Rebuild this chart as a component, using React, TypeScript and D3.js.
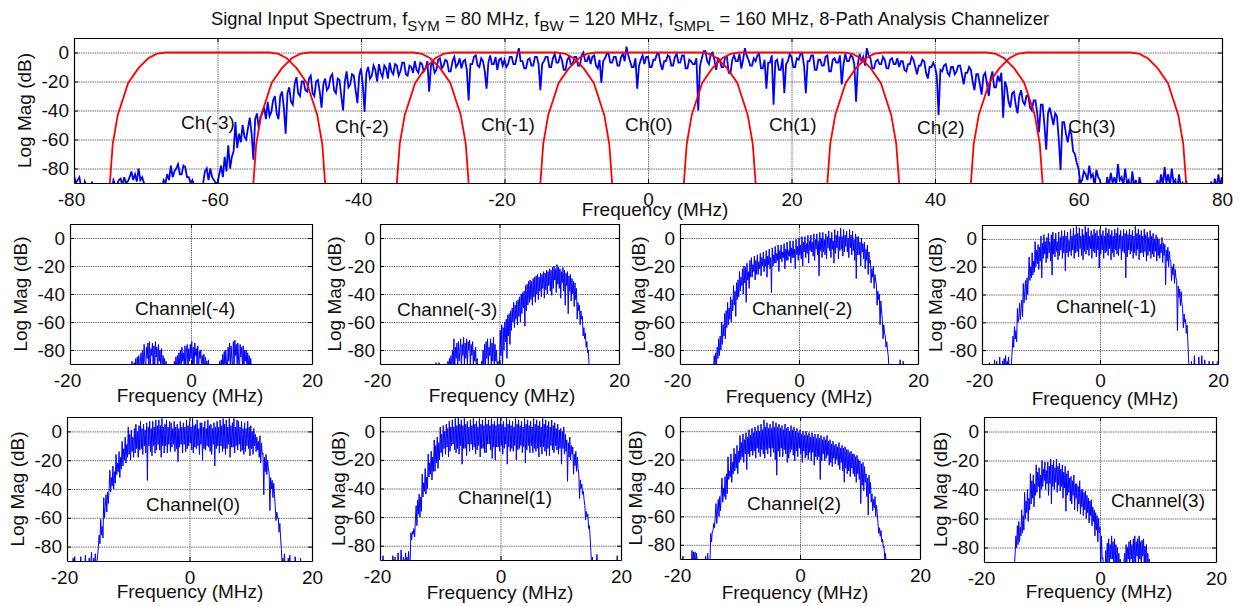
import React, { useRef, useEffect } from 'react';
import * as d3 from 'd3';

const FONT = '"Liberation Sans", Arial, sans-serif';
const BLUE = '#0000ff';
const RED = '#ff0000';
const TEXT_SIZE = 19;

const dbTicks = [0, -20, -40, -60, -80];
const inputTicks = [-80, -60, -40, -20, 0, 20, 40, 60, 80];
const channelTicks = [-20, 0, 20];
const inputStep = 0.25;
const channelStep = 0.125;

// input spectrum, one row per 5 MHz starting at -80
const inputSpectrum = [
  -85, -90, -88, -86, -93, -96, -89, -92, -92, -96, -89, -96, -96, -96, -96, -96, -96, -96, -96, -96,
  -92, -96, -88, -91, -91, -88, -87, -92, -86, -90, -89, -86, -82, -88, -84, -89, -80, -88, -86, -90,
  -91, -96, -92, -96, -96, -96, -96, -96, -90, -94, -88, -90, -84, -88, -78, -86, -82, -80, -77, -84,
  -84, -78, -79, -86, -86, -90, -88, -92, -91, -96, -94, -96, -90, -82, -80, -88, -80, -86, -88, -90,
  -90, -84, -78, -86, -72, -82, -64, -80, -72, -68, -48, -66, -56, -62, -50, -58, -60, -52, -45, -56,
  -74, -46, -42, -52, -44, -42, -38, -46, -34, -44, -41, -33, -30, -42, -46, -30, -27, -38, -56, -28,
  -24, -34, -36, -22, -17, -28, -30, -20, -20, -26, -27, -18, -16, -28, -30, -20, -19, -27, -38, -22,
  -18, -26, -24, -17, -15, -26, -28, -18, -19, -30, -40, -20, -13, -24, -22, -15, -16, -26, -35, -16,
  -11, -22, -41, -14, -10, -18, -16, -9, -12, -20, -8, -14, -17, -9, -11, -18, -7, -13, -15, -8,
  -9, -16, -13, -7, -7, -15, -16, -9, -10, -14, -6, -12, -14, -7, -8, -13, -11, -6, -27, -9,
  -7, -14, -12, -5, -4, -11, -9, -5, -6, -13, -13, -6, -3, -10, -8, -4, -11, -6, -5, -12,
  -33, -8, -8, -3, -2, -9, -10, -4, -6, -13, -25, -7, -2, -8, -8, -3, -12, -5, -4, -9,
  -5, -10, -8, -3, -3, -8, -8, -2, 3, -6, -6, -11, -11, -5, -4, -9, -9, -3, -3, -8,
  -26, -8, -6, -3, -3, -10, -10, -4, -1, -7, -7, -2, -5, -12, -12, -5, -3, -8, -8, -3,
  -3, -9, -9, -2, 0, -6, -6, -2, -8, -3, -2, -9, -11, -5, -21, -6, -4, -1, -1, -7,
  -7, -3, -3, -9, -9, -3, -1, -6, 4, -2, -6, -10, -10, -4, -25, -9, -5, -2, -8, -3,
  -3, -10, -10, -5, -5, -1, -1, -8, -12, -6, -6, -2, -3, -9, -9, -3, -1, -7, -7, -2,
  -2, -11, -11, -5, -6, -8, -8, -4, -40, -9, -4, 1, 1, -6, -8, -1, 0, -5, -12, -4,
  -5, -10, -10, -3, -3, -14, -14, -5, -2, -6, -6, -1, -11, -5, 3, -2, -5, -9, -9, -4,
  -6, -2, -1, -11, -11, -5, -25, -7, -7, -2, -36, -6, -5, -12, -12, -4, -28, -8, -6, -1,
  -3, -10, -10, -4, -5, -1, -1, -9, -28, -6, -6, -2, -2, -12, -12, -5, -5, -9, -9, -3,
  -2, -13, -13, -5, -4, -7, -7, -2, -22, -8, -1, -6, -6, -2, -3, -8, -34, -8, -1, -6,
  -3, -9, 3, -2, -4, -11, -11, -6, -5, -8, -8, -3, -5, -11, -11, -5, -4, -8, -8, -4,
  -10, -6, -6, -12, -13, -8, -8, -3, -5, -10, -15, -9, -9, -5, -6, -14, -18, -10, -10, -7,
  -10, -16, -43, -12, -13, -9, -8, -14, -16, -10, -10, -15, -13, -9, -9, -15, -22, -14, -14, -10,
  -12, -20, -26, -15, -15, -22, -29, -16, -14, -22, -30, -18, -13, -24, -24, -16, -20, -14, -45, -20,
  -24, -34, -38, -28, -27, -36, -42, -30, -26, -34, -36, -30, -30, -38, -40, -33, -33, -42, -55, -36,
  -36, -50, -67, -42, -38, -44, -50, -42, -44, -60, -81, -48, -48, -56, -62, -54, -56, -68, -70, -76,
  -80, -90, -88, -82, -84, -88, -78, -86, -84, -92, -81, -86, -88, -96, -92, -96, -86, -92, -83, -90,
  -86, -92, -77, -88, -86, -92, -80, -90, -88, -96, -82, -92, -88, -96, -86, -92, -96, -96, -96, -96,
  -96, -96, -90, -96, -88, -94, -84, -92, -79, -90, -84, -92, -80, -90, -88, -96, -84, -92, -90, -96,
  -88, -96, -96, -96, -96, -96, -96, -96, -96, -96, -96, -96, -91, -96, -89, -96, -87, -94, -84, -92,
  -86,
];

// filter response relative to its channel centre
const filterOffsets = [-15, -14.6, -13.9, -12.45, -11.05, -9.65, -8.5, -7.3, 7.3, 8.5, 9.65, 11.05, 12.45, 13.9, 14.6, 15];
const filterDb = [-90, -63, -43, -21, -11, -4, -1, 0, 0, -1, -4, -11, -21, -43, -63, -90];
const channelCentres = [-60, -40, -20, 0, 20, 40, 60];

// channel spectra, one row per MHz from the panel's start frequency
const channelM4 = [
  -90, -96, -88, -96, -93, -89, -96, -86,
  -96, -85, -92, -84, -96, -88, -82, -96,
  -80, -92, -76, -88, -96, -78, -86, -75,
  -90, -74, -96, -79, -84, -75, -92, -77,
  -96, -74, -85, -78, -96, -76, -88, -80,
  -92, -79, -96, -84, -90, -86, -96, -88,
  -96, -91, -96, -96, -96, -96, -96, -96,
  -92, -96, -88, -96, -85, -93, -84, -96,
  -82, -90, -80, -96, -78, -88, -82, -94,
  -77, -92, -80, -76, -96, -79, -88, -76,
  -86, -74, -92, -78, -96, -75, -84, -79,
  -90, -77, -96, -81, -86, -80, -94, -84,
  -92, -83, -96, -85, -90, -88, -96, -87,
  -96, -90, -96, -93, -96, -96, -96, -96,
  -96, -96, -94, -96, -92, -96, -88, -96,
  -87, -96, -83, -92, -81, -96, -80, -90,
  -96, -78, -88, -75, -92, -77, -86, -96,
  -74, -90, -73, -84, -76, -92, -75, -88,
  -96, -76, -85, -78, -90, -77, -96, -80,
  -88, -80, -96, -82, -92, -84, -96, -86,
  -96, -90, -96, -94, -96, -96, -96, -96,
];
const channelM3 = [
  -96, -96, -96, -96, -92, -96, -96, -90,
  -96, -91, -96, -89, -96, -92, -96, -89,
  -94, -96, -90, -96, -96, -96, -96, -96,
  -96, -96, -96, -88, -96, -86, -94, -84,
  -96, -80, -90, -72, -96, -78, -86, -75,
  -92, -74, -88, -80, -72, -96, -76, -84,
  -71, -90, -75, -86, -72, -94, -74, -80,
  -73, -92, -76, -84, -74, -90, -80, -88,
  -78, -96, -86, -96, -96, -96, -96, -96,
  -88, -96, -80, -92, -76, -96, -74, -86,
  -72, -90, -78, -84, -72, -94, -75, -88,
  -71, -92, -76, -88, -80, -96, -88, -96,
  -90, -66, -84, -62, -96, -64, -80, -60,
  -74, -58, -86, -55, -70, -54, -76, -52,
  -66, -50, -60, -46, -64, -48, -58, -45,
  -62, -44, -56, -42, -60, -40, -54, -39,
  -50, -38, -63, -34, -52, -33, -48, -31,
  -46, -30, -44, -31, -48, -29, -42, -28,
  -46, -27, -40, -26, -44, -28, -38, -25,
  -42, -26, -36, -24, -43, -25, -37, -23,
  -40, -24, -34, -22, -38, -23, -41, -21,
  -36, -20, -30, -22, -39, -19, -33, -21,
  -36, -22, -43, -24, -32, -21, -38, -23,
  -48, -25, -34, -24, -54, -27, -38, -26,
  -45, -29, -40, -31, -49, -32, -44, -36,
  -58, -46, -52, -48, -62, -52, -58, -56,
  -70, -64, -72, -68, -78, -74, -82, -80,
  -92, -96, -96, -96, -96, -96, -96, -96,
];
const channelM2 = [
  -96, -96, -96, -96, -90, -96, -84, -92,
  -82, -92, -78, -86, -72, -84, -70, -80,
  -60, -76, -62, -70, -54, -72, -52, -64,
  -46, -62, -50, -58, -42, -60, -44, -52,
  -34, -48, -38, -56, -32, -44, -30, -42,
  -24, -38, -28, -34, -22, -40, -20, -32,
  -21, -46, -18, -30, -24, -36, -16, -28,
  -14, -28, -19, -24, -13, -30, -16, -26,
  -12, -26, -17, -22, -11, -27, -14, -20,
  -10, -24, -15, -20, -9, -28, -13, -19,
  -8, -22, -14, -39, -7, -20, -12, -18,
  -6, -18, -11, -16, -5, -24, -9, -15,
  -5, -17, -10, -14, -4, -22, -8, -16,
  -3, -16, -9, -13, -2, -18, -7, -14,
  -2, -14, -8, -22, -1, -12, -6, -16,
  0, -12, -5, -15, 1, -20, -3, -10,
  1, -14, -4, -11, 2, -18, -2, -9,
  2, -10, -3, -13, 3, -16, -1, -8,
  3, -12, -2, -27, 4, -9, 0, -14,
  4, -10, -1, -12, 3, -15, 1, -7,
  5, -9, 0, -14, 4, -8, -2, -18,
  6, -11, 2, -7, 5, -15, 1, -9,
  7, -8, 1, -13, 6, -10, 2, -6,
  5, -10, 0, -14, 6, -7, 2, -12,
  5, -9, -1, -16, 3, -29, 1, -12,
  1, -12, -3, -20, 0, -10, -4, -15,
  -3, -22, -8, -16, -5, -26, -10, -18,
  -16, -32, -22, -28, -20, -36, -26, -30,
  -33, -48, -38, -44, -40, -62, -45, -52,
  -58, -72, -62, -68, -70, -78, -74, -80,
  -84, -94, -90, -96, -93, -96, -91, -96,
  -94, -96, -90, -96, -93, -96, -96, -96,
  -87, -96, -92, -96, -88, -96, -95, -96,
  -93, -96, -91, -96, -96, -96, -96, -96,
];
const channelM1 = [
  -88, -92, -96, -91, -96, -90, -96, -96,
  -92, -96, -89, -96, -94, -96, -96, -90,
  -96, -87, -96, -92, -88, -96, -91, -96,
  -85, -96, -90, -96, -88, -96, -86, -94,
  -84, -96, -88, -92, -85, -96, -90, -96,
  -88, -80, -70, -78, -63, -72, -66, -74,
  -50, -60, -56, -46, -58, -50, -44, -56,
  -32, -46, -38, -30, -44, -28, -40, -26,
  -13, -30, -20, -28, -10, -26, -16, -24,
  -2, -20, -8, -18, -4, -22, -6, -16,
  2, -28, -3, -14, 3, -11, -2, -17,
  1, -14, 4, -10, -2, -16, 3, -26,
  5, -11, 0, -13, 4, -9, -2, -15,
  5, -12, 1, -8, 6, -14, 2, -10,
  6, -23, 2, -10, 5, -13, -1, -9,
  7, -12, 2, -8, 8, -14, 3, -10,
  9, -9, 4, -13, 8, -7, 2, -12,
  7, -15, 3, -9, 9, -11, 5, -8,
  8, -12, 2, -7, 6, -14, 3, -9,
  7, -10, 4, -13, 6, -8, 2, -21,
  7, -11, 3, -8, 6, -14, 2, -10,
  8, -9, 4, -12, 7, -7, 3, -15,
  6, -10, 2, -13, 7, -8, 4, -11,
  8, -12, 3, -7, 6, -15, 2, -9,
  7, -10, 4, -28, 6, -13, 3, -8,
  7, -11, 3, -9, 6, -14, 2, -10,
  9, -12, 4, -8, 7, -15, 3, -10,
  6, -10, 2, -13, 7, -9, 3, -16,
  5, -12, 1, -9, 6, -14, 2, -11,
  4, -13, 0, -9, 3, -16, 1, -12,
  0, -14, -4, -10, 1, -17, -3, -12,
  -4, -33, -8, -16, -6, -20, -9, -15,
  -16, -30, -20, -26, -18, -32, -22, -28,
  -30, -66, -34, -42, -36, -48, -38, -46,
  -50, -64, -54, -60, -58, -68, -62, -72,
  -86, -96, -90, -96, -88, -96, -92, -96,
  -84, -96, -90, -96, -94, -96, -85, -96,
  -90, -96, -84, -96, -92, -96, -87, -96,
  -96, -96, -90, -96, -88, -96, -96, -92,
  -96, -88, -96, -92, -96, -90, -96, -88,
];
const channel0 = [
  -85, -96, -92, -96, -96, -90, -96, -94,
  -88, -96, -87, -92, -96, -93, -96, -96,
  -92, -96, -87, -96, -90, -96, -91, -96,
  -86, -96, -94, -90, -96, -88, -96, -92,
  -84, -96, -92, -88, -96, -85, -94, -92,
  -86, -80, -72, -78, -61, -72, -66, -74,
  -46, -60, -52, -44, -56, -42, -50, -40,
  -27, -42, -32, -38, -24, -40, -28, -36,
  -16, -30, -22, -28, -14, -32, -18, -26,
  -7, -24, -12, -20, -4, -22, -9, -18,
  3, -16, -2, -20, 1, -14, -4, -18,
  2, -15, 5, -12, 0, -18, 4, -13,
  7, -12, 2, -16, 5, -10, 1, -15,
  6, -34, 3, -10, 7, -14, 2, -17,
  7, -10, 3, -15, 8, -13, 4, -9,
  8, -13, 4, -18, 9, -10, 3, -15,
  5, -10, 8, -15, 3, -9, 7, -14,
  6, -11, 2, -9, 7, -14, 3, -12,
  5, -21, 2, -11, 7, -9, 3, -15,
  6, -9, 3, -14, 8, -12, 4, -10,
  7, -8, 3, -13, 9, -15, 4, -11,
  5, -12, 8, -10, 2, -16, 6, -9,
  6, -20, 3, -12, 7, -13, 2, -10,
  8, -11, 4, -14, 5, -16, 2, -9,
  6, -24, 3, -12, 7, -10, 3, -15,
  8, -10, 4, -14, 9, -12, 5, -16,
  8, -12, 3, -9, 9, -18, 4, -11,
  6, -11, 9, -15, 3, -10, 8, -13,
  7, -9, 3, -14, 7, -13, 2, -16,
  6, -14, 2, -10, 7, -12, 3, -17,
  4, -12, 0, -16, 2, -10, -2, -14,
  -4, -13, -7, -18, -3, -22, -8, -16,
  -15, -44, -18, -28, -16, -30, -20, -26,
  -29, -55, -32, -40, -34, -46, -36, -44,
  -52, -62, -56, -60, -60, -70, -64, -74,
  -82, -92, -88, -96, -85, -96, -90, -96,
  -94, -88, -96, -86, -96, -96, -91, -96,
  -96, -96, -87, -96, -92, -96, -96, -90,
  -96, -88, -96, -92, -96, -90, -96, -96,
  -96, -90, -96, -96, -92, -96, -96, -96,
];
const channel1 = [
  -96, -96, -96, -96, -87, -96, -92, -96,
  -96, -96, -96, -90, -96, -92, -96, -96,
  -96, -87, -92, -96, -88, -96, -94, -96,
  -85, -96, -90, -96, -83, -92, -96, -88,
  -90, -96, -85, -92, -88, -96, -84, -96,
  -92, -71, -76, -70, -72, -68, -74, -62,
  -52, -66, -48, -58, -44, -60, -46, -56,
  -30, -46, -36, -42, -26, -44, -32, -40,
  -16, -32, -22, -30, -14, -34, -18, -28,
  -6, -28, -10, -22, -4, -26, -8, -20,
  3, -15, -2, -18, 4, -12, 0, -16,
  5, -11, 2, -18, 7, -14, 3, -10,
  8, -9, 3, -13, 9, -15, 4, -12,
  10, -16, 5, -10, 8, -23, 4, -12,
  9, -12, 5, -17, 7, -9, 3, -14,
  8, -9, 4, -13, 9, -11, 5, -16,
  7, -13, 3, -10, 9, -18, 5, -12,
  8, -12, 4, -15, 10, -15, 5, -9,
  8, -9, 4, -13, 9, -19, 5, -11,
  7, -20, 4, -11, 10, -11, 5, -14,
  9, -10, 5, -16, 7, -12, 3, -9,
  10, -23, 5, -11, 8, -14, 4, -12,
  7, -14, 3, -10, 9, -20, 5, -13,
  8, -12, 4, -10, 7, -15, 3, -11,
  9, -22, 5, -13, 8, -10, 4, -15,
  7, -10, 3, -15, 9, -12, 5, -14,
  8, -12, 4, -18, 7, -11, 3, -16,
  9, -11, 5, -14, 8, -17, 4, -12,
  7, -17, 3, -10, 8, -13, 4, -15,
  6, -10, 2, -13, 5, -16, 1, -12,
  2, -23, 0, -12, 3, -16, -2, -14,
  -6, -35, -8, -18, -4, -20, -10, -16,
  -11, -30, -16, -24, -14, -28, -18, -26,
  -30, -47, -34, -40, -37, -44, -42, -48,
  -52, -62, -56, -60, -58, -68, -66, -74,
  -84, -96, -88, -96, -92, -96, -96, -96,
  -86, -96, -96, -90, -96, -94, -96, -96,
  -96, -93, -96, -96, -96, -92, -96, -96,
  -96, -96, -96, -94, -96, -96, -96, -96,
  -96, -92, -96, -87, -96, -92, -96, -90,
];
const channel2 = [
  -92, -96, -90, -96, -88, -96, -96, -90,
  -96, -93, -96, -96, -96, -96, -96, -96,
  -84, -96, -85, -92, -85, -96, -86, -92,
  -91, -96, -93, -96, -92, -96, -96, -96,
  -93, -96, -88, -96, -90, -86, -96, -90,
  -92, -72, -78, -71, -70, -65, -68, -60,
  -51, -65, -56, -48, -60, -46, -56, -44,
  -33, -50, -40, -46, -32, -48, -30, -44,
  -18, -34, -28, -32, -16, -36, -22, -30,
  -12, -28, -16, -26, -10, -30, -14, -22,
  -3, -20, -8, -18, -2, -22, -6, -16,
  -1, -27, -4, -16, 1, -18, -3, -14,
  2, -17, -1, -14, 3, -19, 0, -12,
  4, -15, 0, -18, 5, -13, 1, -16,
  8, -19, 3, -13, 6, -16, 2, -12,
  5, -18, 2, -12, 7, -15, 3, -20,
  6, -31, 3, -14, 5, -18, 2, -12,
  4, -18, 1, -13, 5, -16, 2, -22,
  3, -19, 0, -15, 4, -13, 1, -17,
  3, -21, 0, -14, 2, -18, -1, -12,
  1, -16, -2, -22, 0, -14, -3, -19,
  0, -17, -3, -20, -1, -15, -4, -21,
  -1, -15, -4, -24, -2, -18, -5, -20,
  -2, -18, -5, -34, -3, -21, -6, -16,
  -4, -21, -6, -19, -3, -17, -7, -24,
  -6, -22, -9, -25, -7, -19, -10, -23,
  -9, -20, -11, -24, -8, -27, -12, -22,
  -10, -28, -12, -36, -11, -26, -13, -30,
  -13, -28, -15, -32, -14, -26, -16, -30,
  -16, -32, -18, -36, -17, -30, -20, -34,
  -21, -51, -23, -38, -22, -42, -25, -36,
  -30, -46, -33, -59, -31, -44, -36, -50,
  -44, -56, -48, -54, -46, -60, -52, -58,
  -65, -72, -68, -74, -70, -78, -76, -82,
  -81, -90, -86, -96, -92, -96, -96, -96,
];
const channel3 = [
  -96, -96, -92, -84, -72, -80, -65, -78,
  -62, -76, -66, -72, -54, -70, -58, -68,
  -42, -60, -48, -56, -40, -62, -46, -54,
  -29, -50, -34, -46, -30, -52, -36, -44,
  -23, -42, -28, -38, -25, -46, -30, -40,
  -20, -38, -26, -34, -21, -40, -27, -36,
  -21, -44, -24, -36, -19, -50, -23, -38,
  -20, -40, -25, -35, -19, -42, -24, -37,
  -22, -41, -26, -38, -23, -46, -28, -39,
  -24, -55, -29, -44, -27, -42, -32, -48,
  -31, -50, -34, -44, -30, -54, -36, -46,
  -36, -55, -38, -50, -34, -57, -40, -52,
  -40, -58, -42, -54, -41, -60, -44, -56,
  -46, -63, -48, -58, -47, -65, -52, -62,
  -54, -72, -56, -68, -58, -76, -60, -70,
  -66, -94, -72, -88, -87, -96, -92, -96,
  -82, -94, -77, -90, -74, -92, -78, -88,
  -72, -88, -76, -94, -74, -90, -78, -92,
  -80, -92, -84, -96, -88, -96, -96, -96,
  -96, -90, -84, -96, -78, -92, -80, -88,
  -76, -94, -75, -88, -78, -92, -74, -90,
  -72, -92, -76, -86, -74, -90, -72, -88,
  -76, -94, -75, -86, -74, -92, -79, -90,
  -78, -92, -84, -96, -88, -96, -92, -96,
  -96, -96, -96, -96, -96, -96, -96, -96,
  -92, -96, -90, -96, -91, -96, -93, -96,
  -92, -96, -93, -96, -96, -96, -96, -96,
];

const inputLabels = ['Ch(-3)', 'Ch(-2)', 'Ch(-1)', 'Ch(0)', 'Ch(1)', 'Ch(2)', 'Ch(3)'];
const inputLabelPos = [[181, 129], [335, 133], [481, 131], [625, 131], [769, 131], [917, 134], [1068, 133]];

// pixel layout of the small panels plus their labels
const panels = [
  { name: 'Channel(-4)', values: channelM4, start: -10, left: 70, right: 312, top: 224, bottom: 364, labelX: 135, labelY: 315, yLabelX: 27, xLabelX: 190, xLabelY: 402 },
  { name: 'Channel(-3)', values: channelM3, start: -12, left: 380, right: 619, top: 224, bottom: 364, labelX: 397, labelY: 316, yLabelX: 341, xLabelX: 502, xLabelY: 402 },
  { name: 'Channel(-2)', values: channelM2, start: -15, left: 680, right: 918, top: 224, bottom: 364, labelX: 752, labelY: 315, yLabelX: 645, xLabelX: 799, xLabelY: 403 },
  { name: 'Channel(-1)', values: channelM1, start: -20, left: 982, right: 1218, top: 225, bottom: 364, labelX: 1056, labelY: 313, yLabelX: 942, xLabelX: 1105, xLabelY: 405 },
  { name: 'Channel(0)', values: channel0, start: -20, left: 67, right: 312, top: 417, bottom: 561, labelX: 146, labelY: 511, yLabelX: 24, xLabelX: 190, xLabelY: 598 },
  { name: 'Channel(1)', values: channel1, start: -20, left: 380, right: 621, top: 417, bottom: 560, labelX: 458, labelY: 504, yLabelX: 345, xLabelX: 500, xLabelY: 599 },
  { name: 'Channel(2)', values: channel2, start: -20, left: 680, right: 920, top: 417, bottom: 559, labelX: 747, labelY: 510, yLabelX: 642, xLabelX: 795, xLabelY: 599 },
  { name: 'Channel(3)', values: channel3, start: -15, left: 984, right: 1216, top: 417, bottom: 562, labelX: 1111, labelY: 507, yLabelX: 947, xLabelX: 1099, xLabelY: 598 },
];

const drawFrame = (svg, id, box, xTicks, xDomain, xLabelX, xLabelY, yLabelX) => {
  const { left, right, top, bottom } = box;
  const x = d3.scaleLinear().domain(xDomain).range([left, right]);
  const y = d3.scaleLinear().domain([-90, 10]).range([bottom, top]);

  svg.append('clipPath').attr('id', id)
    .append('rect')
    .attr('x', left).attr('y', top)
    .attr('width', right - left).attr('height', bottom - top);

  // grid
  const gridX = svg.append('g').attr('transform', `translate(0,${bottom})`)
    .call(d3.axisBottom(x).tickValues(xTicks).tickSize(top - bottom).tickFormat(() => ''));
  const gridY = svg.append('g').attr('transform', `translate(${left},0)`)
    .call(d3.axisLeft(y).tickValues(dbTicks).tickSize(left - right).tickFormat(() => ''));
  [gridX, gridY].forEach(g => {
    g.select('.domain').remove();
    g.selectAll('line').attr('stroke', '#6e6e6e').attr('stroke-width', 1).attr('stroke-dasharray', '1.5 0.8');
  });

  const plot = svg.append('g').attr('clip-path', `url(#${id})`);
  const axes = svg.append('g');

  const finish = () => {
    axes.raise();
    const bottomAxis = axes.append('g').attr('transform', `translate(0,${bottom})`)
      .call(d3.axisBottom(x).tickValues(xTicks).tickSizeInner(-4).tickSizeOuter(0).tickPadding(10).tickFormat(d3.format('d')));
    const leftAxis = axes.append('g').attr('transform', `translate(${left},0)`)
      .call(d3.axisLeft(y).tickValues(dbTicks).tickSizeInner(-4).tickSizeOuter(0).tickPadding(5).tickFormat(d3.format('d')));
    axes.append('g').attr('transform', `translate(0,${top})`)
      .call(d3.axisTop(x).tickValues(xTicks).tickSizeInner(-4).tickSizeOuter(0).tickFormat(() => ''));
    axes.append('g').attr('transform', `translate(${right},0)`)
      .call(d3.axisRight(y).tickValues(dbTicks).tickSizeInner(-4).tickSizeOuter(0).tickFormat(() => ''));
    axes.selectAll('.domain').attr('stroke', '#000').attr('stroke-width', 1.2);
    axes.selectAll('line').attr('stroke', '#000').attr('stroke-width', 1);
    [bottomAxis, leftAxis].forEach(g => {
      g.selectAll('text').attr('font-family', FONT).attr('font-size', TEXT_SIZE).attr('fill', '#111')
        .text(d => String(d));
    });
    // negative labels sit a little left of their tick in the original
    bottomAxis.selectAll('text').attr('dx', d => (d < 0 ? -3 : 0));
  };

  svg.append('text')
    .attr('x', xLabelX).attr('y', xLabelY)
    .attr('text-anchor', 'middle')
    .attr('font-family', FONT).attr('font-size', TEXT_SIZE).attr('fill', '#111')
    .text('Frequency (MHz)');
  svg.append('text')
    .attr('transform', `translate(${yLabelX},${(top + bottom) / 2}) rotate(-90)`)
    .attr('text-anchor', 'middle')
    .attr('font-family', FONT).attr('font-size', TEXT_SIZE).attr('fill', '#111')
    .text('Log Mag (dB)');

  return { x, y, plot, finish };
};

const App = () => {
  const svgRef = useRef();

  useEffect(() => {
    const svg = d3.select(svgRef.current);
    svg.selectAll('*').remove();

    // title with subscripts
    const title = svg.append('text')
      .attr('x', 211).attr('y', 25)
      .attr('font-family', FONT).attr('font-size', 18.4).attr('fill', '#111');
    const titleParts = [
      ['Signal Input Spectrum, f', false], ['SYM', true], [' = 80 MHz, f', false], ['BW', true],
      [' = 120 MHz, f', false], ['SMPL', true], [' = 160 MHz, 8-Path Analysis Channelizer', false],
    ];
    let wasSub = false;
    titleParts.forEach(([s, sub]) => {
      title.append('tspan')
        .attr('dy', sub === wasSub ? 0 : sub ? 6 : -6)
        .attr('font-size', sub ? 15 : 18.4)
        .text(s);
      wasSub = sub;
    });

    // input spectrum panel
    const top = drawFrame(svg, 'clip-input', { left: 74, right: 1222, top: 38, bottom: 183 }, inputTicks, [-80, 80], 655, 216, 31);
    const inputLine = d3.line().x((d, i) => top.x(-80 + i * inputStep)).y(d => top.y(d));
    top.plot.append('path').datum(inputSpectrum)
      .attr('d', inputLine).attr('fill', 'none')
      .attr('stroke', BLUE).attr('stroke-width', 1.8);
    const filterLine = d3.line().x(d => top.x(d[0])).y(d => top.y(d[1]));
    channelCentres.forEach(c => {
      top.plot.append('path')
        .datum(filterOffsets.map((o, i) => [c + o, filterDb[i]]))
        .attr('d', filterLine).attr('fill', 'none')
        .attr('stroke', RED).attr('stroke-width', 1.8);
    });
    top.finish();
    svg.selectAll('.input-label').data(inputLabels).enter().append('text')
      .attr('x', (d, i) => inputLabelPos[i][0]).attr('y', (d, i) => inputLabelPos[i][1])
      .attr('font-family', FONT).attr('font-size', TEXT_SIZE).attr('fill', '#111')
      .text(d => d);

    // channel panels
    panels.forEach((p, n) => {
      const f = drawFrame(svg, `clip-${n}`, p, channelTicks, [-20, 20], p.xLabelX, p.xLabelY, p.yLabelX);
      const line = d3.line().x((d, i) => f.x(p.start + i * channelStep)).y(d => f.y(d));
      f.plot.append('path').datum(p.values)
        .attr('d', line).attr('fill', 'none')
        .attr('stroke', BLUE).attr('stroke-width', 1);
      f.finish();
      svg.append('text')
        .attr('x', p.labelX).attr('y', p.labelY)
        .attr('font-family', FONT).attr('font-size', TEXT_SIZE).attr('fill', '#111')
        .text(p.name);
    });
  }, []);

  return <svg ref={svgRef} width={1241} height={606} style={{ position: 'absolute', left: 0, top: 0, background: '#fff' }}></svg>;
};

export default App;
